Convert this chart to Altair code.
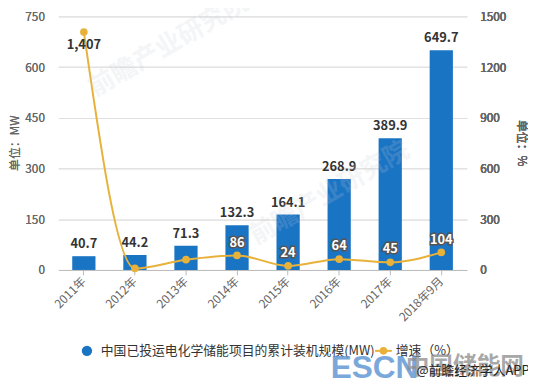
import altair as alt
import pandas as pd

years = ["2011年", "2012年", "2013年", "2014年", "2015年", "2016年", "2017年", "2018年9月"]
capacity = [40.7, 44.2, 71.3, 132.3, 164.1, 268.9, 389.9, 649.7]
growth = [1407, 9, 61, 86, 24, 64, 45, 104]
growth_labels_above = ["", "", "", "86", "24", "64", "45", "104"]
growth_labels_below = ["1,407", "", "", "", "", "", "", ""]
left_ticks = [0, 150, 300, 450, 600, 750]
right_ticks = [0, 300, 600, 900, 1200, 1500]
legend_bar = ["中国已投运电化学储能项目的累计装机规模(MW)"]
legend_line = ["增速（%）"]
wm_escn = ["ESCN"]
wm_cn = ["中国储能网"]
wm_app = ["@前瞻经济学人APP"]
wm_qz = ["前瞻产业研究院"]

df = pd.DataFrame({
    "year": years,
    "mw": capacity,
    "g": growth,
    "ga": growth_labels_above,
    "gb": growth_labels_below,
    "mwl": [f"{v:.1f}" for v in capacity],
})

FONT = "Noto Sans CJK SC"
BLUE = "#1a74c4"
GOLD = "#e8b23a"

base = alt.Chart(df)

x = alt.X(
    "year:N", sort=years,
    scale=alt.Scale(paddingInner=0, paddingOuter=0),
    axis=alt.Axis(title=None, labelAngle=-45, labelAlign="right", labelBaseline="middle",
                  labelFontSize=12, labelColor="#666", labelFont=FONT,
                  domainColor="#bbbbbb", tickColor="#bbbbbb", tickSize=5,
                  labelPadding=4, grid=False),
)

yl = alt.Y(
    "mw:Q", scale=alt.Scale(domain=[0, 750], nice=False),
    axis=alt.Axis(values=left_ticks, format="d", title="单位：MW", orient="left", domain=False,
                  ticks=False, grid=True, gridColor="#e0e0e0", labelFontSize=12, labelColor="#666",
                  labelFont=FONT, labelPadding=14, titleFont=FONT, titleFontSize=12,
                  titleFontWeight="normal", titleColor="#666", titleX=-44, titleY=128,
                  titleAngle=-90, titleBaseline="middle"),
)

yr = alt.Y(
    "g:Q", scale=alt.Scale(domain=[0, 1500], nice=False),
    axis=alt.Axis(values=right_ticks, format="d", title="单位：%", orient="right", domain=False,
                  ticks=False, grid=False, labelFontSize=12, labelColor="#666",
                  labelFont=FONT, labelPadding=13, titleFont=FONT, titleFontSize=12,
                  titleFontWeight="normal", titleColor="#666", titleX=55, titleY=128,
                  titleAngle=90, titleBaseline="middle"),
)

bars = base.mark_bar(color=BLUE, width=alt.RelativeBandSize(0.455)).encode(x=x, y=yl)
bar_text = base.mark_text(baseline="bottom", dy=-5, font=FONT, fontWeight="bold",
                          fontSize=13, color="#333").encode(x=x, y=yl, text="mwl:N")

line = base.mark_line(interpolate="monotone", color=GOLD, strokeWidth=2).encode(x=x, y=yr)
pts = base.mark_point(filled=True, size=60, color=GOLD, opacity=1).encode(x=x, y=yr)
lab_out = base.mark_text(baseline="bottom", dy=-6, font=FONT, fontWeight="bold", fontSize=13,
                         color="#555", stroke="#555", strokeWidth=3).encode(x=x, y=yr, text="ga:N")
lab_in = base.mark_text(baseline="bottom", dy=-6, font=FONT, fontWeight="bold", fontSize=13,
                        color="#ffffff").encode(x=x, y=yr, text="ga:N")
lab_below = base.mark_text(baseline="top", dy=7, font=FONT, fontWeight="bold", fontSize=13,
                           color="#333").encode(x=x, y=yr, text="gb:N")

# legend (manual)
leg_dot = alt.Chart(pd.DataFrame({"t": legend_bar})).mark_point(
    filled=True, size=110, color=BLUE, opacity=1).encode(x=alt.value(29), y=alt.value(339))
leg_t1 = alt.Chart(pd.DataFrame({"t": legend_bar})).mark_text(
    align="left", baseline="middle", font=FONT, fontSize=13, color="#333").encode(
    x=alt.value(43), y=alt.value(339), text="t:N")
leg_rule = alt.Chart(pd.DataFrame({"t": legend_line})).mark_rule(
    color=GOLD, strokeWidth=2).encode(x=alt.value(321), x2=alt.value(338), y=alt.value(339))
leg_pt = alt.Chart(pd.DataFrame({"t": legend_line})).mark_point(
    filled=True, size=60, color=GOLD, opacity=1).encode(x=alt.value(329.5), y=alt.value(339))
leg_t2 = alt.Chart(pd.DataFrame({"t": legend_line})).mark_text(
    align="left", baseline="middle", font=FONT, fontSize=13, color="#333").encode(
    x=alt.value(342), y=alt.value(339), text="t:N")

# watermarks
qz1 = alt.Chart(pd.DataFrame({"t": wm_qz})).mark_text(
    align="center", baseline="middle", font=FONT, fontWeight="bold", fontSize=26, angle=330,
    color="#c5cad2", opacity=0.18).encode(x=alt.value(112), y=alt.value(29), text="t:N")
qz2 = alt.Chart(pd.DataFrame({"t": wm_qz})).mark_text(
    align="center", baseline="middle", font=FONT, fontWeight="bold", fontSize=26, angle=330,
    color="#c5cad2", opacity=0.18).encode(x=alt.value(275), y=alt.value(179), text="t:N")
escn = alt.Chart(pd.DataFrame({"t": wm_escn})).mark_text(
    align="left", baseline="alphabetic", font="Liberation Sans", fontWeight="bold", fontSize=32,
    color="#5b93d3", opacity=0.8).encode(x=alt.value(276), y=alt.value(366), text="t:N")
cn = alt.Chart(pd.DataFrame({"t": wm_cn})).mark_text(
    align="left", baseline="alphabetic", font=FONT, fontWeight="bold", fontSize=24,
    color="#8c8c8c", opacity=0.75).encode(x=alt.value(352), y=alt.value(362), text="t:N")
app = alt.Chart(pd.DataFrame({"t": wm_app})).mark_text(
    align="left", baseline="middle", font=FONT, fontSize=13,
    color="#222").encode(x=alt.value(363), y=alt.value(359), text="t:N")

chart = alt.layer(
    bars, bar_text, line, pts, lab_out, lab_in, lab_below,
    leg_dot, leg_t1, leg_rule, leg_pt, leg_t2, qz1, qz2, escn, cn, app,
).resolve_scale(y="independent").properties(
    width=414, height=257,
    padding={"left": 51, "top": 6, "right": 62, "bottom": 107},
    autosize=alt.AutoSizeParams(type="none"),
    background="white",
).configure_view(stroke=None)

chart.save("out.html", embed_options={"renderer": "svg", "actions": False})
